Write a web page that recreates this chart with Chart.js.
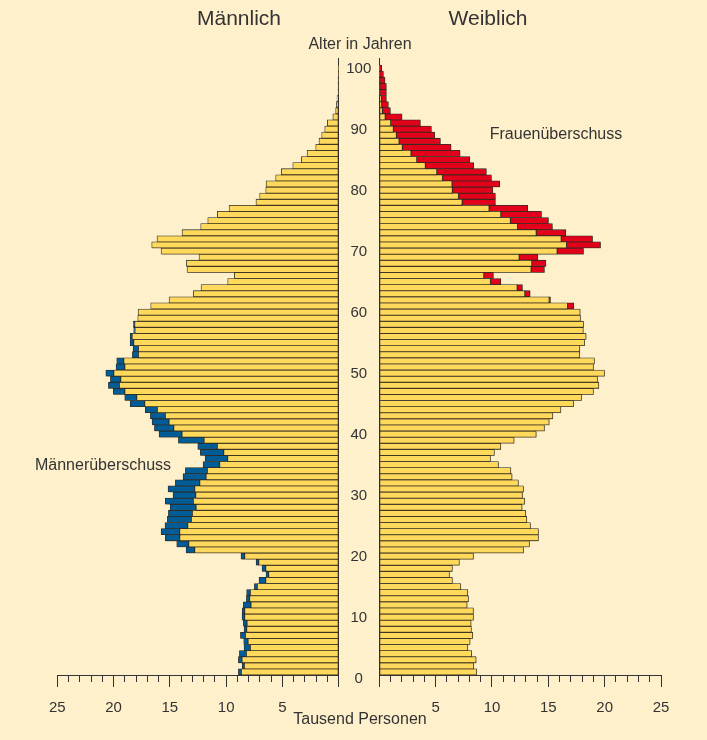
<!DOCTYPE html>
<html>
<head>
<meta charset="utf-8">
<script src="https://cdn.jsdelivr.net/npm/chart.js@4.4.1/dist/chart.umd.min.js"></script>
<style>
html, body { margin: 0; padding: 0; background: #FFF0CC; }
#wrap { position: relative; width: 707px; height: 740px; overflow: hidden; background: #FFF0CC;
  font-family: "Liberation Sans", Arial, sans-serif; color: #333; }
canvas { position: absolute; top: 0; }
.t { position: absolute; transform: translate(-50%, -50%); white-space: nowrap; line-height: 1.15; }
</style>
</head>
<body>
<div id="wrap">
  <canvas id="cm" width="345" height="740" style="left:0px;width:345px;height:740px"></canvas>
  <canvas id="cf" width="362" height="740" style="left:345px;width:362px;height:740px"></canvas>
  <div class="t" style="left:239px;top:18px;font-size:21px">Männlich</div>
  <div class="t" style="left:488px;top:18px;font-size:21px">Weiblich</div>
  <div class="t" style="left:360px;top:44px;font-size:16px">Alter in Jahren</div>
  <div class="t" style="left:103px;top:465px;font-size:16px">Männerüberschuss</div>
  <div class="t" style="left:556px;top:134px;font-size:16px">Frauenüberschuss</div>
  <div class="t" style="left:360px;top:719px;font-size:16px">Tausend Personen</div>
</div>
<script>
const AGES = [
  0, 1, 2, 3, 4, 5, 6, 7, 8, 9,
  10, 11, 12, 13, 14, 15, 16, 17, 18, 19,
  20, 21, 22, 23, 24, 25, 26, 27, 28, 29,
  30, 31, 32, 33, 34, 35, 36, 37, 38, 39,
  40, 41, 42, 43, 44, 45, 46, 47, 48, 49,
  50, 51, 52, 53, 54, 55, 56, 57, 58, 59,
  60, 61, 62, 63, 64, 65, 66, 67, 68, 69,
  70, 71, 72, 73, 74, 75, 76, 77, 78, 79,
  80, 81, 82, 83, 84, 85, 86, 87, 88, 89,
  90, 91, 92, 93, 94, 95, 96, 97, 98, 99
];
// Tausend Personen, Männlich
const MEN = [
  8.91, 8.56, 8.91, 8.82, 8.41, 8.44, 8.73, 8.41, 8.47, 8.59,
  8.56, 8.47, 8.20, 8.18, 7.49, 7.08, 6.46, 6.81, 7.34, 8.68,
  13.56, 14.39, 15.40, 15.78, 15.43, 15.22, 15.13, 14.98, 15.40, 14.72,
  15.16, 14.51, 13.83, 13.62, 12.05, 11.87, 12.29, 12.52, 14.24, 15.96,
  16.37, 16.58, 16.73, 17.18, 18.53, 19.01, 20.02, 20.46, 20.28, 20.69,
  19.78, 19.72, 18.33, 18.27, 18.53, 18.53, 18.21, 18.24, 17.85, 17.82,
  16.70, 15.07, 12.91, 12.23, 9.86, 9.27, 13.47, 13.53, 12.41, 15.78,
  16.61, 16.14, 13.92, 12.26, 11.63, 10.78, 9.74, 7.35, 7.02, 6.48,
  6.45, 5.60, 5.10, 4.08, 3.32, 2.81, 2.04, 1.75, 1.51, 1.24,
  1.01, 0.52, 0.27, 0.20, 0.15, 0.06, 0.06, 0.06, 0.03, 0.02
];
// Tausend Personen, Weiblich
const WOMEN = [
  8.65, 8.38, 8.59, 8.20, 7.85, 8.05, 8.29, 8.17, 8.14, 8.35,
  8.35, 7.79, 7.91, 7.85, 7.23, 6.48, 6.22, 6.48, 7.10, 8.35,
  12.79, 13.32, 14.12, 14.12, 13.41, 13.09, 13.00, 12.67, 12.91, 12.70,
  12.79, 12.34, 11.78, 11.67, 10.57, 9.86, 10.21, 10.78, 11.96, 13.92,
  14.65, 15.07, 15.40, 16.11, 17.23, 17.94, 19.00, 19.48, 19.36, 19.98,
  19.00, 19.09, 17.79, 17.79, 18.21, 18.35, 18.10, 18.12, 17.85, 17.82,
  17.26, 15.19, 13.38, 12.70, 10.78, 10.12, 14.65, 14.78, 14.07, 18.12,
  19.63, 18.92, 16.55, 15.36, 15.01, 14.39, 13.17, 10.30, 10.30, 10.07,
  10.69, 9.95, 9.50, 8.38, 8.02, 7.16, 6.36, 5.42, 4.91, 4.62,
  3.64, 2.01, 0.98, 0.80, 0.62, 0.62, 0.62, 0.50, 0.36, 0.21
];
const AGE_TICKS = [0, 10, 20, 30, 40, 50, 60, 70, 80, 90, 100];
const X_MINOR_TICKS = [0, 1, 2, 3, 4, 5, 6, 7, 8, 9, 10, 11, 12, 13, 14, 15, 16, 17, 18, 19, 20, 21, 22, 23, 24, 25];
const X_MAJOR_TICKS = [0, 5, 10, 15, 20, 25];

const FONT = '"Liberation Sans", Arial, sans-serif';
const INK = '#333333';
const EDGE = '#2b2b2b';
const YELLOW = '#FFD95C';
const BLUE = '#005C97';
const RED = '#E3001B';

const shadowPlugin = {
  id: 'barShadow',
  beforeDatasetsDraw(chart) {
    const c = chart.ctx;
    c.save();
    c.shadowColor = 'rgba(70,50,0,0.35)';
    c.shadowOffsetX = 1;
    c.shadowOffsetY = 1;
    c.shadowBlur = 1;
  },
  afterDatasetsDraw(chart) { chart.ctx.restore(); }
};

function makeChart(id, isMen) {
  const common = AGES.map((a, i) => ({ x: Math.min(MEN[i], WOMEN[i]), y: a }));
  const surplus = AGES.map((a, i) => ({
    x: isMen ? Math.max(0, MEN[i] - WOMEN[i]) : Math.max(0, WOMEN[i] - MEN[i]),
    y: a
  }));
  const barStyle = { borderColor: EDGE, borderWidth: 0.8, borderSkipped: false,
    barPercentage: 1, categoryPercentage: 1, stack: 'p' };

  const yAxis = isMen ? {
    type: 'linear', min: -0.5, max: 100.5, position: 'right', offset: false,
    ticks: { display: false },
    grid: { display: false, drawTicks: false, offset: false },
    border: { display: true, color: INK, width: 1 },
    afterFit: s => { s.width = 0; }
  } : {
    type: 'linear', min: -0.5, max: 100.5, position: 'left', offset: false,
    afterBuildTicks: s => { s.ticks = AGE_TICKS.map(v => ({ value: v })); },
    ticks: { display: true, crossAlign: 'center', padding: 8, labelOffset: 7,
      font: { size: 15, family: FONT }, color: INK, autoSkip: false },
    grid: { display: false, drawTicks: false, offset: false },
    border: { display: true, color: INK, width: 1 },
    afterFit: s => { s.width = 34.3; }
  };

  return new Chart(document.getElementById(id), {
    type: 'bar',
    data: {
      datasets: [
        Object.assign({ label: 'gemeinsam', data: common, backgroundColor: YELLOW }, barStyle),
        Object.assign({ label: isMen ? 'Männerüberschuss' : 'Frauenüberschuss', data: surplus,
          backgroundColor: isMen ? BLUE : RED }, barStyle)
      ]
    },
    options: {
      indexAxis: 'y',
      responsive: false,
      animation: false,
      devicePixelRatio: 1,
      layout: { padding: isMen
        ? { left: 57.3, right: 6.3, top: 58.9, bottom: 23 }
        : { left: 0, right: 46, top: 58.9, bottom: 23 } },
      plugins: { legend: { display: false }, tooltip: { enabled: false }, title: { display: false } },
      scales: {
        x: {
          type: 'linear', min: 0, max: 25, reverse: isMen, position: 'bottom', weight: 0, stacked: true,
          afterBuildTicks: s => { s.ticks = X_MINOR_TICKS.map(v => ({ value: v })); },
          ticks: { display: false },
          grid: { display: true, drawOnChartArea: false, drawTicks: true, tickLength: 7, color: INK, lineWidth: 1 },
          border: { display: true, color: INK, width: 1 },
          afterFit: s => { s.height = 7; }
        },
        x2: {
          type: 'linear', axis: 'x', min: 0, max: 25, reverse: isMen, position: 'bottom', weight: 1,
          afterBuildTicks: s => { s.ticks = X_MAJOR_TICKS.map(v => ({ value: v })); },
          ticks: { display: true, padding: 12, autoSkip: false, maxRotation: 0,
            font: { size: 15, family: FONT }, color: INK,
            callback: v => (v === 0 ? '' : String(v)) },
          grid: { display: true, drawOnChartArea: false, drawTicks: true, tickLength: 5, color: INK, lineWidth: 1 },
          border: { display: false },
          afterFit: s => { s.height = 35; }
        },
        y: yAxis
      }
    },
    plugins: [shadowPlugin]
  });
}

makeChart('cm', true);
makeChart('cf', false);
</script>
</body>
</html>
